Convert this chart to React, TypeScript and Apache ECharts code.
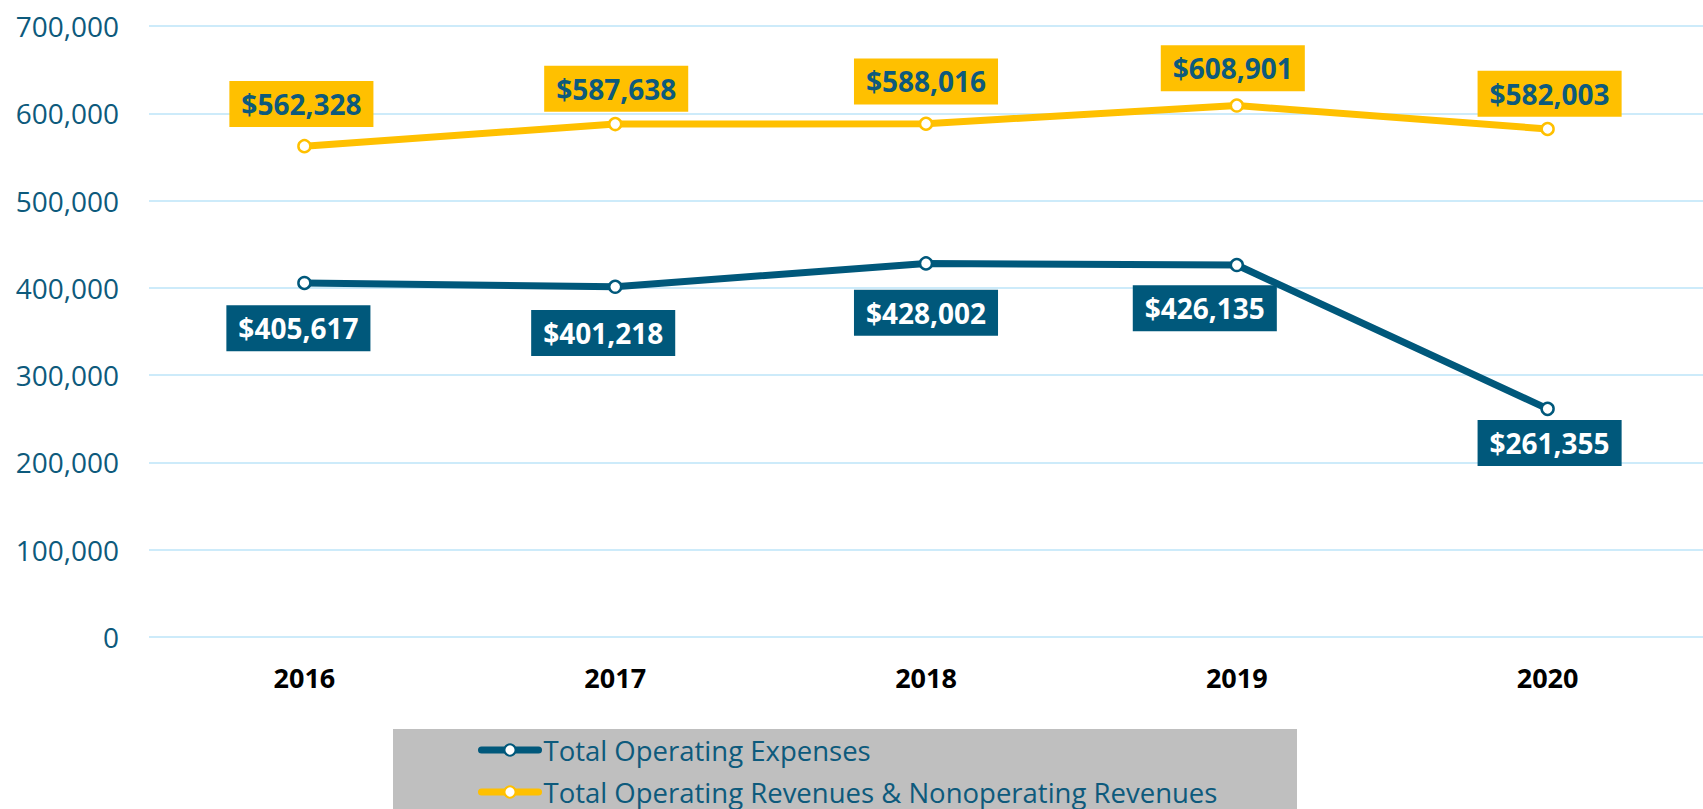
import React, { useEffect, useRef } from "react";
import * as echarts from "echarts";

const years = ["2016", "2017", "2018", "2019", "2020"];
const expenses = [405617, 401218, 428002, 426135, 261355];
const revenues = [562328, 587638, 588016, 608901, 582003];
const seriesNames = [
  "Total Operating Expenses",
  "Total Operating Revenues & Nonoperating Revenues",
];
const yMax = 700000;
const yInterval = 100000;

// label nudges (style only)
const revLabelOffsets = [
  [-3, -4],
  [1, 3],
  [0, -4],
  [-4, 1],
  [2, 3],
];
const expLabelOffsets = [
  [-6, 3],
  [-12, 4],
  [0, 7],
  [-32, 1],
  [2, -8],
];

const BLUE = "#00587B";
const GOLD = "#FFC000";
const TEXT_BLUE = "#0D5A7C";
const FONT = "'Open Sans', 'Noto Sans', sans-serif";

export default function App() {
  const ref = useRef<HTMLDivElement>(null);
  useEffect(() => {
    if (!ref.current) return;
    const chart = echarts.init(ref.current, undefined, { renderer: "svg" });
    const money = (v: number) => "$" + v.toLocaleString("en-US");
    chart.setOption({
      animation: false,
      backgroundColor: "#ffffff",
      textStyle: { fontFamily: FONT },
      grid: { left: 149, top: 26, width: 1565, height: 611, containLabel: false },
      xAxis: {
        type: "category",
        data: years,
        boundaryGap: true,
        axisLine: { show: false },
        axisTick: { show: false },
        axisLabel: {
          margin: 27,
          fontSize: 27,
          fontWeight: "bold",
          color: "#000000",
          fontFamily: FONT,
        },
      },
      yAxis: {
        type: "value",
        min: 0,
        max: yMax,
        interval: yInterval,
        axisLine: { show: false },
        axisTick: { show: false },
        splitLine: { lineStyle: { color: "#CDEBFA", width: 2 } },
        axisLabel: {
          margin: 30,
          fontSize: 28,
          color: TEXT_BLUE,
          fontFamily: FONT,
          formatter: (v: number) => v.toLocaleString("en-US"),
        },
      },
      legend: {
        orient: "vertical",
        left: 478,
        top: 735,
        height: 74,
        padding: 0,
        itemWidth: 57,
        itemHeight: 14,
        itemGap: 12,
        z: 10,
        data: seriesNames,
        lineStyle: { width: 7, cap: "round" },
        textStyle: {
          fontSize: 27.5,
          lineHeight: 30,
          color: TEXT_BLUE,
          fontFamily: FONT,
        },
      },
      graphic: [
        {
          type: "rect",
          z: 0,
          shape: { x: 393, y: 729, width: 904, height: 90 },
          style: { fill: "#BFBFBF" },
        },
      ],
      series: [
        {
          name: seriesNames[0],
          type: "line",
          data: expenses.map((v, i) => ({
            value: v,
            label: { offset: expLabelOffsets[i] },
          })),
          symbol: "circle",
          symbolSize: 12,
          lineStyle: { color: BLUE, width: 7 },
          itemStyle: { color: "#ffffff", borderColor: BLUE, borderWidth: 2.5 },
          label: {
            show: true,
            position: "bottom",
            distance: 12,
            formatter: (p: any) => money(p.value),
            fontSize: 28,
            fontWeight: "bold",
            fontFamily: FONT,
            color: "#ffffff",
            backgroundColor: BLUE,
            padding: [8, 12],
            lineHeight: 30,
          },
          z: 3,
        },
        {
          name: seriesNames[1],
          type: "line",
          data: revenues.map((v, i) => ({
            value: v,
            label: { offset: revLabelOffsets[i] },
          })),
          symbol: "circle",
          symbolSize: 12,
          lineStyle: { color: GOLD, width: 7 },
          itemStyle: { color: "#ffffff", borderColor: GOLD, borderWidth: 2.5 },
          label: {
            show: true,
            position: "top",
            distance: 8,
            formatter: (p: any) => money(p.value),
            fontSize: 28,
            fontWeight: "bold",
            fontFamily: FONT,
            color: TEXT_BLUE,
            backgroundColor: GOLD,
            padding: [8, 12],
            lineHeight: 30,
          },
          z: 3,
        },
      ],
    });
    return () => chart.dispose();
  }, []);
  return (
    <div
      ref={ref}
      style={{ position: "fixed", left: 0, top: 0, width: 1703, height: 809 }}
    />
  );
}
